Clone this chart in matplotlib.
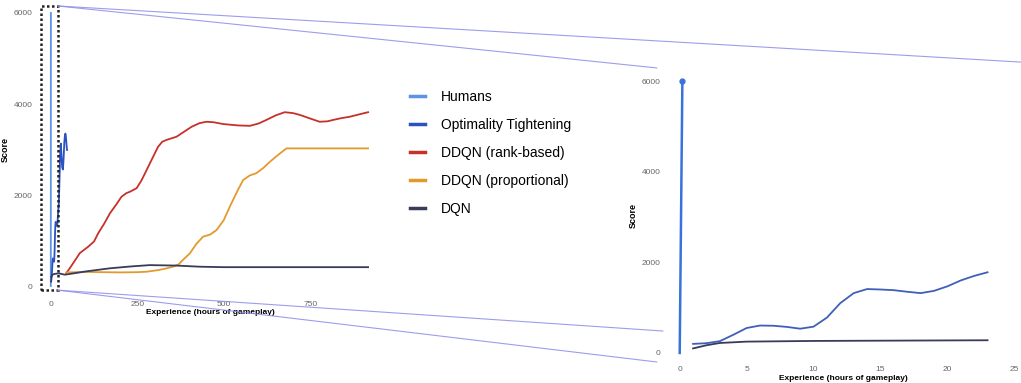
import numpy as np
import matplotlib
matplotlib.use("Agg")
import matplotlib.pyplot as plt
from matplotlib.patches import Rectangle, ConnectionPatch

plt.rcParams["font.family"] = ["Liberation Sans", "DejaVu Sans"]

# values (hours of gameplay, score)
humans_hours = [0, 0.2]
humans_score = [0, 6000]

ot_hours = [1, 2, 3, 4, 5, 6, 7, 8, 9, 10, 11, 12, 13, 14, 15, 16, 17, 18, 19, 20,
            21, 22, 23, 25, 27, 29, 31, 33, 35, 37, 39, 41, 42.5, 44, 46, 47]
ot_score = [200, 215, 260, 400, 550, 605, 600, 575, 535, 580, 780, 1100, 1320, 1410,
            1400, 1385, 1350, 1320, 1370, 1470, 1600, 1700, 1780, 2300, 2900, 3130,
            2850, 2600, 2560, 2800, 3150, 3330, 3350, 3250, 3050, 2990]

rank_hours = [45, 60, 84, 108, 125, 137, 155, 171, 190, 204, 218, 228, 248, 262, 277,
              295, 310, 322, 334, 363, 385, 407, 430, 450, 470, 498, 540, 575, 600, 623,
              650, 676, 700, 720, 750, 777, 800, 816, 840, 864, 890, 917]
rank_score = [285, 450, 725, 864, 980, 1160, 1380, 1600, 1800, 1960, 2040, 2070, 2150,
              2320, 2550, 2830, 3060, 3170, 3210, 3280, 3390, 3500, 3580, 3610, 3600,
              3560, 3530, 3520, 3570, 3650, 3750, 3820, 3800, 3760, 3680, 3610, 3620,
              3650, 3690, 3720, 3770, 3820]

prop_hours = [45, 100, 200, 250, 277, 310, 330, 353, 370, 380, 402, 420, 440, 460, 479,
              500, 517, 540, 556, 575, 594, 615, 633, 660, 681, 700, 917]
prop_score = [300, 310, 300, 305, 315, 350, 380, 425, 480, 560, 720, 920, 1085, 1130,
              1230, 1450, 1740, 2100, 2330, 2430, 2480, 2600, 2730, 2900, 3025, 3025, 3025]

dqn_hours = [1, 2, 3, 5, 10, 23, 40, 50, 100, 171, 230, 286, 363, 431, 500, 917]
dqn_score = [100, 170, 220, 250, 265, 280, 250, 260, 320, 390, 430, 460, 450, 425, 415, 415]

labels = ["Humans", "Optimality Tightening", "DDQN (rank-based)",
          "DDQN (proportional)", "DQN"]
colors = ["#5b93e6", "#2a52c0", "#c8302a", "#e39a2d", "#383b5a"]

ZOOM_MAX = 23  # right panel only shows the first hours


def style_axes(ax):
    for s in ax.spines.values():
        s.set_visible(False)
    ax.tick_params(length=0, labelsize=6, labelcolor="#666666", pad=3)
    ax.set_xlabel("Experience (hours of gameplay)", fontsize=6, fontweight="bold", labelpad=1)
    ax.set_ylabel("Score", fontsize=6.5, fontweight="bold", labelpad=3)
    ax.set_yticks([0, 2000, 4000, 6000])


fig = plt.figure(figsize=(10.21, 3.83), dpi=100)
ax1 = fig.add_axes([0.0362, 0.2258, 0.3389, 0.770])
ax2 = fig.add_axes([0.6513, 0.0548, 0.3487, 0.7632])

series = [(humans_hours, humans_score), (ot_hours, ot_score),
          (rank_hours, rank_score), (prop_hours, prop_score),
          (dqn_hours, dqn_score)]

for (h, s), lab, c in zip(series, labels, colors):
    ax1.plot(h, s, color=c, lw=1.3, label=lab)

# zoomed panel
ax2.plot(humans_hours, humans_score, color="#3a72dc", lw=1.8,
         marker="o", markersize=3.5, markevery=[1])
h = np.array(ot_hours)
ax2.plot(h[h <= ZOOM_MAX], np.array(ot_score)[h <= ZOOM_MAX], color="#3f5fb8", lw=1.3)
h = np.array(dqn_hours)
ax2.plot(h[h <= ZOOM_MAX], np.array(dqn_score)[h <= ZOOM_MAX], color=colors[4], lw=1.3)

ax1.set_xlim(-40, 960)
ax1.set_ylim(-230, 6250)
ax1.set_xticks([0, 250, 500, 750])
ax2.set_xlim(-1.1, 25.5)
ax2.set_ylim(-200, 6250)
ax2.set_xticks([0, 5, 10, 15, 20, 25])
style_axes(ax1)
style_axes(ax2)

# box marking the zoomed region
rect = Rectangle((-29, -90), 49, 6245, fill=False, edgecolor="#222222",
                 lw=1.8, linestyle=(0, (1, 1)), clip_on=False, zorder=5)
ax1.add_patch(rect)

connectors = [((20, 6154), (1.0, 1.026)),
              ((20, 6154), (-0.0225, 1.006)),
              ((20, -90), (-0.0056, 0.106)),
              ((20, -90), (-0.0225, 0.0))]
for start, end in connectors:
    con = ConnectionPatch(xyA=start, coordsA=ax1.transData,
                          xyB=end, coordsB=ax2.transAxes,
                          color="#8c8ce8", lw=0.8, alpha=0.85)
    fig.add_artist(con)

fig.legend(*ax1.get_legend_handles_labels(), loc="upper left",
           bbox_to_anchor=(410 / 1021, 1 - 90 / 383), frameon=False,
           fontsize=10, handlelength=1.1, handletextpad=1.1,
           labelspacing=1.0, borderpad=0, borderaxespad=0)
for line in fig.legends[0].get_lines():
    line.set_linewidth(2.5)

fig.savefig("out.png", dpi=100)
